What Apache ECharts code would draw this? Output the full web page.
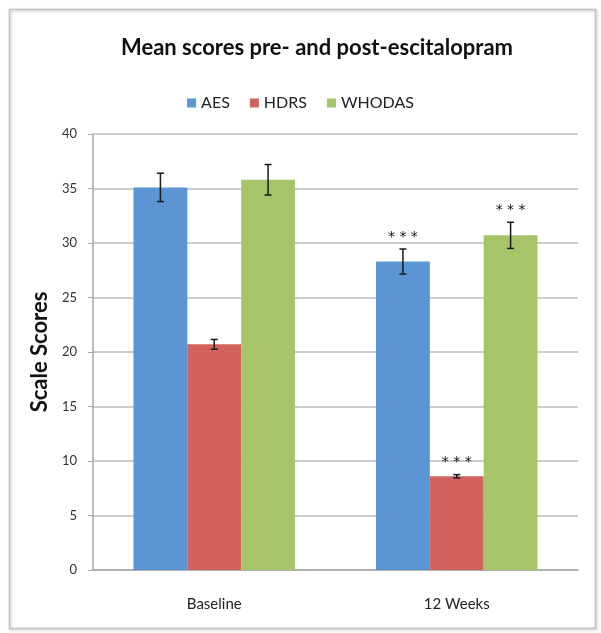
<!DOCTYPE html>
<html><head><meta charset="utf-8">
<script src="https://cdn.jsdelivr.net/npm/echarts@6/dist/echarts.min.js"></script>
<style>html,body{margin:0;padding:0;background:#fff}#c{width:601px;height:633px}</style>
</head><body><div id="c"></div>
<script>
const categories = ['Baseline', '12 Weeks'];
const seriesNames = ['AES', 'HDRS', 'WHODAS'];
const aesValues = [35.1, 28.3];
const hdrsValues = [20.7, 8.6];
const whodasValues = [35.8, 30.7];
const aesErrors = [1.3, 1.15];
const hdrsErrors = [0.45, 0.15];
const whodasErrors = [1.4, 1.2];
const aesSig = ['', '***'];
const hdrsSig = ['', '***'];
const whodasSig = ['', '***'];
const yTicks = [0, 5, 10, 15, 20, 25, 30, 35, 40];

const colors = ['#5B95D3', '#D2625C', '#A6C56A'];
const values = [aesValues, hdrsValues, whodasValues];
const errors = [aesErrors, hdrsErrors, whodasErrors];
const sigs = [aesSig, hdrsSig, whodasSig];
const BAR_FRAC = 0.222;
const FONT = 'Lato, "Open Sans", sans-serif';

const chart = echarts.init(document.getElementById('c'), null, {renderer: 'canvas'});

const series = [];
seriesNames.forEach((name, i) => {
  series.push({
    name: name, type: 'bar', data: values[i],
    barWidth: (BAR_FRAC * 100) + '%', barGap: '0%',
    itemStyle: {color: colors[i]},
    emphasis: {disabled: true}
  });
});
seriesNames.forEach((name, i) => {
  series.push({
    type: 'custom', name: name + ' err',
    data: values[i].map((v, j) => [j, v, errors[i][j]]),
    z: 10,
    renderItem: function (params, api) {
      const c = api.value(0), v = api.value(1), e = api.value(2);
      const band = api.size([1, 0])[0];
      const off = (i - 1) * band * BAR_FRAC;
      const top = api.coord([c, v + e]);
      const bot = api.coord([c, v - e]);
      const x = top[0] + off;
      const cap = 3.5;
      const st = {stroke: '#1a1a1a', lineWidth: 1.5};
      const children = [
        {type: 'line', shape: {x1: x, y1: top[1], x2: x, y2: bot[1]}, style: st},
        {type: 'line', shape: {x1: x - cap, y1: top[1], x2: x + cap, y2: top[1]}, style: st},
        {type: 'line', shape: {x1: x - cap, y1: bot[1], x2: x + cap, y2: bot[1]}, style: st}
      ];
      const s = sigs[i][c];
      if (s) {
        children.push({type: 'text', style: {text: s.split('').join(' '), x: x, y: top[1] - 5, align: 'center', verticalAlign: 'bottom', fill: '#111', font: '14px "DejaVu Sans", sans-serif'}});
      }
      return {type: 'group', children: children};
    }
  });
});

chart.setOption({
  animation: false,
  backgroundColor: '#fff',
  title: {
    text: 'Mean scores pre- and post-escitalopram', left: 116, top: 32,
    textStyle: {fontFamily: FONT, fontSize: 22, fontWeight: 'bold', color: '#111'}
  },
  legend: {
    data: seriesNames, top: 90, left: 'center', itemWidth: 9, itemHeight: 9, itemGap: 20,
    icon: 'rect',
    textStyle: {fontFamily: FONT, fontSize: 16, color: '#222'}
  },
  grid: {left: 93, right: 23, top: 134, bottom: 63},
  xAxis: {
    type: 'category', data: categories,
    axisLine: {lineStyle: {color: '#a6a6a6', width: 1.5}},
    axisTick: {show: false},
    axisLabel: {fontFamily: FONT, fontSize: 15, color: '#222', margin: 27}
  },
  yAxis: {
    type: 'value', min: yTicks[0], max: yTicks[yTicks.length - 1], interval: 5,
    name: 'Scale Scores', nameLocation: 'middle', nameGap: 41, nameRotate: 90,
    nameTextStyle: {fontFamily: FONT, fontSize: 22, fontWeight: 'bold', color: '#111'},
    axisLine: {show: true, lineStyle: {color: '#a6a6a6', width: 1.5}},
    axisTick: {show: true, length: 5, lineStyle: {color: '#a6a6a6'}},
    axisLabel: {fontFamily: FONT, fontSize: 13, color: '#333', margin: 16},
    splitLine: {lineStyle: {color: '#bdbdbd', width: 1.5}}
  },
  graphic: [{
    type: 'rect', left: 7, top: 7, z: -1,
    shape: {width: 586, height: 619},
    style: {fill: 'none', stroke: '#c4c4c4', lineWidth: 1.5, shadowBlur: 3, shadowColor: 'rgba(0,0,0,0.25)', shadowOffsetX: 1, shadowOffsetY: 1}
  }],
  series: series
});
</script></body></html>
